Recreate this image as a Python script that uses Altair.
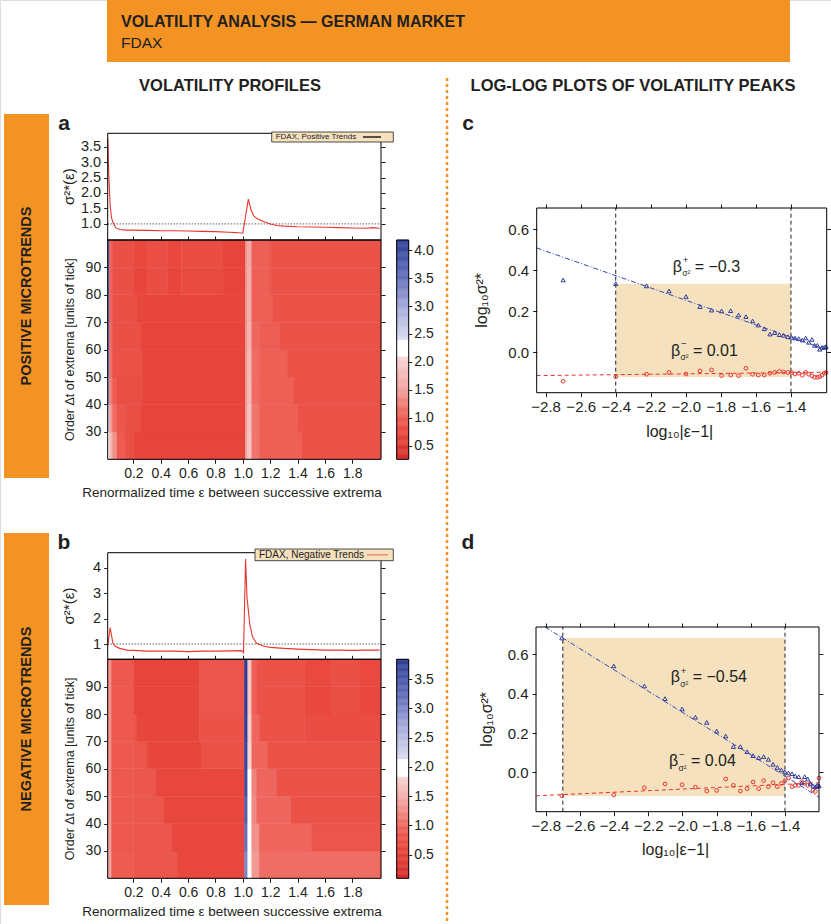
import altair as alt
import numpy as np
import pandas as pd

W, H = 831, 924
FONT = "Liberation Sans"
ORANGE = "#F39323"
WHEAT = "#F5E1BE"
RED = "#E8352E"
BLUE = "#2E3D9C"
INK = "#231F20"

# ---------------- data ----------------
# volatility profiles sigma^2*(eps)
eps_a = [0.013, 0.02, 0.03, 0.04, 0.05, 0.07, 0.10, 0.15, 0.2, 0.3, 0.4, 0.5, 0.6, 0.7, 0.8, 0.9,
         0.95, 1.0, 1.04, 1.06, 1.08, 1.1, 1.15, 1.2, 1.25, 1.3, 1.4, 1.5, 1.6, 1.7, 1.8, 1.9, 1.95, 2.0]
sig_a = [3.75, 2.6, 1.6, 1.2, 1.05, 0.88, 0.82, 0.80, 0.80, 0.79, 0.78, 0.78, 0.77, 0.76, 0.75, 0.73,
         0.72, 0.70, 1.80, 1.45, 1.26, 1.18, 1.08, 1.0, 0.95, 0.93, 0.91, 0.90, 0.89, 0.88, 0.87, 0.86, 0.88, 0.86]
eps_b = [0.013, 0.03, 0.05, 0.07, 0.10, 0.15, 0.2, 0.3, 0.4, 0.5, 0.6, 0.7, 0.8, 0.9, 0.99, 1.005,
         1.02, 1.03, 1.05, 1.07, 1.1, 1.15, 1.2, 1.3, 1.4, 1.5, 1.6, 1.7, 1.8, 1.9, 2.0]
sig_b = [0.95, 1.65, 1.03, 0.90, 0.83, 0.76, 0.75, 0.72, 0.72, 0.72, 0.70, 0.72, 0.72, 0.73, 0.74, 0.66,
         4.34, 2.86, 1.81, 1.29, 1.03, 0.92, 0.87, 0.83, 0.80, 0.78, 0.76, 0.76, 0.75, 0.76, 0.76]

# heatmaps: one list of eps-breaks and values per band of Delta t (bottom to top)
dt_edges = [20, 30, 40, 50, 60, 70, 80, 90, 100]
heat_a_breaks = [
    [0.012, 0.025, 0.045, 0.08, 0.14, 0.2, 1.02, 1.035, 1.065, 1.12, 1.43, 2.01],
    [0.012, 0.025, 0.045, 0.08, 0.14, 0.25, 1.02, 1.035, 1.065, 1.12, 1.40, 2.01],
    [0.012, 0.025, 0.045, 0.08, 0.27, 1.02, 1.035, 1.065, 1.12, 1.37, 2.01],
    [0.012, 0.025, 0.045, 0.27, 1.02, 1.035, 1.065, 1.12, 1.33, 2.01],
    [0.012, 0.025, 0.045, 0.25, 1.02, 1.035, 1.065, 1.12, 1.27, 2.01],
    [0.012, 0.025, 0.045, 0.22, 1.02, 1.035, 1.065, 1.22, 2.01],
    [0.012, 0.025, 0.045, 0.2, 0.3, 0.45, 0.55, 0.85, 1.02, 1.035, 1.065, 1.2, 2.01],
    [0.012, 0.025, 0.045, 0.2, 0.3, 0.45, 0.55, 0.85, 1.02, 1.035, 1.065, 1.2, 2.01],
]
heat_a_vals = [
    [2.2, 1.8, 1.4, 1.0, 0.85, 0.72, 1.6, 1.9, 1.2, 1.05, 0.9],
    [2.6, 1.5, 1.15, 0.95, 0.85, 0.72, 1.55, 1.85, 1.2, 1.05, 0.9],
    [3.2, 1.3, 1.0, 0.85, 0.72, 1.5, 1.8, 1.15, 1.05, 0.9],
    [3.4, 1.2, 0.88, 0.72, 1.5, 1.75, 1.15, 1.05, 0.9],
    [3.5, 1.15, 0.86, 0.72, 1.45, 1.7, 1.1, 1.02, 0.9],
    [3.6, 1.1, 0.86, 0.73, 1.45, 1.65, 1.05, 0.9],
    [3.6, 1.1, 0.86, 0.74, 0.82, 0.74, 0.8, 0.72, 1.45, 1.65, 1.05, 0.9],
    [3.7, 1.1, 0.86, 0.76, 0.84, 0.76, 0.82, 0.72, 1.45, 1.6, 1.05, 0.9],
]
heat_b_breaks = [
    [0.012, 0.04, 0.2, 0.52, 1.012, 1.036, 1.065, 1.12, 2.01],
    [0.012, 0.04, 0.2, 0.48, 1.012, 1.036, 1.065, 1.12, 1.5, 2.01],
    [0.012, 0.04, 0.2, 0.42, 1.012, 1.036, 1.065, 1.1, 1.35, 2.01],
    [0.012, 0.04, 0.2, 0.36, 1.012, 1.036, 1.065, 1.1, 1.25, 2.01],
    [0.012, 0.04, 0.2, 0.3, 0.7, 1.012, 1.036, 1.065, 1.18, 2.01],
    [0.012, 0.04, 0.22, 0.68, 1.012, 1.036, 1.065, 1.12, 1.45, 2.01],
    [0.012, 0.04, 0.2, 0.68, 1.012, 1.036, 1.065, 1.1, 1.45, 1.65, 1.85, 2.01],
    [0.012, 0.04, 0.2, 0.68, 1.012, 1.036, 1.065, 1.1, 1.45, 1.65, 1.85, 2.01],
]
heat_b_vals = [
    [1.45, 0.9, 0.85, 0.65, 3.0, 2.05, 1.35, 1.05],
    [1.4, 0.88, 0.85, 0.65, 3.2, 2.0, 1.3, 1.0, 0.82],
    [1.35, 0.88, 0.85, 0.65, 3.4, 1.95, 1.25, 1.0, 0.8],
    [1.3, 0.88, 0.85, 0.65, 3.6, 1.85, 1.2, 1.0, 0.8],
    [1.3, 0.88, 0.85, 0.63, 0.78, 3.7, 1.8, 1.0, 0.8],
    [1.3, 0.88, 0.63, 0.8, 3.8, 1.75, 1.0, 0.8, 0.72],
    [1.3, 0.88, 0.62, 0.82, 3.8, 1.7, 0.95, 0.8, 0.66, 0.75, 0.66],
    [1.3, 0.88, 0.62, 0.82, 3.85, 1.7, 0.95, 0.8, 0.68, 0.76, 0.68],
]

# log-log plots of the peaks
c_x = [-2.70, -2.40, -2.224, -2.096, -1.999, -1.919, -1.853, -1.796, -1.744, -1.699, -1.657, -1.619,
       -1.586, -1.552, -1.520, -1.493, -1.466, -1.442, -1.417, -1.396, -1.377, -1.356, -1.335, -1.316,
       -1.299, -1.280, -1.265, -1.249, -1.236, -1.223, -1.210, -1.200]
c_pos = [0.353, 0.335, 0.324, 0.299, 0.272, 0.223, 0.206, 0.202, 0.203, 0.182, 0.174, 0.153,
         0.133, 0.115, 0.089, 0.096, 0.086, 0.083, 0.076, 0.073, 0.070, 0.067, 0.060, 0.070,
         0.049, 0.063, 0.034, 0.034, 0.015, 0.024, 0.024, 0.028]
c_neg = [-0.141, -0.119, -0.107, -0.098, -0.106, -0.091, -0.086, -0.114, -0.111, -0.114, -0.078, -0.107,
         -0.111, -0.111, -0.102, -0.098, -0.093, -0.096, -0.098, -0.099, -0.106, -0.102, -0.112, -0.098,
         -0.107, -0.115, -0.122, -0.122, -0.119, -0.112, -0.102, -0.099]
d_x = [-2.706, -2.402, -2.223, -2.102, -2.002, -1.924, -1.858, -1.800, -1.747, -1.702, -1.661, -1.622,
       -1.587, -1.554, -1.525, -1.497, -1.470, -1.445, -1.421, -1.400, -1.379, -1.359, -1.340, -1.320,
       -1.302, -1.285, -1.267, -1.252, -1.236, -1.223, -1.211, -1.201]
d_pos = [0.683, 0.541, 0.439, 0.375, 0.322, 0.280, 0.254, 0.210, 0.185, 0.131, 0.131, 0.105,
         0.085, 0.075, 0.080, 0.066, 0.041, 0.025, 0.012, 0.002, -0.003, -0.007, -0.019, -0.022,
         -0.053, -0.022, -0.034, -0.056, -0.069, -0.073, -0.066, -0.069]
d_neg = [-0.119, -0.114, -0.078, -0.059, -0.063, -0.075, -0.095, -0.092, -0.034, -0.066, -0.095, -0.083,
         -0.049, -0.083, -0.042, -0.073, -0.053, -0.073, -0.056, -0.042, -0.029, -0.073, -0.066, -0.066,
         -0.047, -0.056, -0.066, -0.059, -0.090, -0.097, -0.073, -0.029]
# fitted power laws: (slope, anchor x, anchor y)
c_fit_pos = (-0.30, -2.4, 0.374)
c_fit_neg = (0.01, -2.0, -0.105)
d_fit_pos = (-0.54, -2.7, 0.683)
d_fit_neg = (0.04, -2.85, -0.119)
c_window, c_shade = (-2.4, -1.4), (-0.12, 0.335)
d_window, d_shade = (-2.7, -1.4), (-0.12, 0.683)
c_betas = [("+", "= \u22120.3", -2.075, 0.418), ("\u2212", "= 0.01", -2.085, 0.008)]
d_betas = [("+", "= \u22120.54", -2.069, 0.483), ("\u2212", "= 0.04", -2.079, 0.056)]

xticks_eps = [0.2, 0.4, 0.6, 0.8, 1.0, 1.2, 1.4, 1.6, 1.8]
xticks_log = [-2.8, -2.6, -2.4, -2.2, -2.0, -1.8, -1.6, -1.4]
yticks_log = [0.0, 0.2, 0.4, 0.6]

# ---------------- scales (pixel ranges on one canvas) ----------------
def qs(domain, rng):
    return alt.Scale(domain=domain, range=rng, nice=False, zero=False)

EPS_DOM = [0.012, 2.01]
XA = qs(EPS_DOM, [107.7, 381.0])
YLA_DOM = [0.48, 3.93]; YLA = qs(YLA_DOM, [240.0, 133.3])
YHA = qs([20, 100], [459.3, 240.0])
CBX_A = qs([0, 1], [396.7, 408.7])
CBA_DOM = [0.26, 4.18]; CBY_A = qs(CBA_DOM, [459.3, 240.0])
YLB_DOM = [0.4, 4.59]; YLB = qs(YLB_DOM, [659.3, 552.7])
YHB = qs([20, 100], [878.3, 659.3])
CBB_DOM = [0.096, 3.84]; CBY_B = qs(CBB_DOM, [878.3, 659.3])
XC_DOM = [-2.851, -1.196]; XC = qs(XC_DOM, [536.7, 826.7])
YC_DOM = [-0.197, 0.704]; YC = qs(YC_DOM, [392.7, 208.0])
XD_DOM = [-2.857, -1.201]; XD = qs(XD_DOM, [536.0, 819.0])
YD_DOM = [-0.2, 0.739]; YD = qs(YD_DOM, [811.7, 627.0])

PAL = ["#D42A28", "#E8473D", "#EE5F55", "#F2A09C", "#F6D6D5", "#FFFFFF", "#FFFFFF",
       "#DCDDF2", "#A3A9DA", "#6470BC", "#2C3C94"]
CA = alt.Scale(domain=[0.26, 0.75, 1.05, 1.5, 2.09, 2.0901, 2.39, 2.3901, 3.0, 3.5, 4.18],
               range=PAL, interpolate="rgb", clamp=True)
CB = alt.Scale(domain=[0.096, 0.65, 0.95, 1.4, 1.83, 1.8301, 2.13, 2.1301, 2.71, 3.19, 3.84],
               range=PAL, interpolate="rgb", clamp=True)


def ax(orient, pos, values=None, fmt=None, labels=True, size=13.5, tick=4, pad=3):
    if orient == "bottom":
        off = pos - H
    elif orient == "top":
        off = -pos
    elif orient == "left":
        off = -pos
    else:
        off = -(W - pos)
    d = dict(orient=orient, offset=off, grid=False, domain=False, ticks=True, tickSize=tick,
             tickColor="#000", tickWidth=0.9, labels=labels, labelFont=FONT, labelFontSize=size,
             labelColor=INK, labelPadding=pad, labelOverlap=False, labelFlush=False, title=None)
    if values is not None:
        d["values"] = values
    if fmt:
        d["format"] = fmt
    return alt.Axis(**d)


def one():
    return pd.DataFrame({"k": [0]})


def prect(x0, x1, y0, y1, **kw):
    return alt.Chart(one()).mark_rect(**kw).encode(
        x=alt.value(x0), x2=alt.value(x1), y=alt.value(y0), y2=alt.value(y1))


def txt(s, x, y, size, bold=False, angle=0, align="center", font=FONT, color=INK):
    kw = dict(align=align, baseline="middle", fontSize=size, font=font, color=color)
    if bold:
        kw["fontWeight"] = "bold"
    if angle:
        kw["angle"] = angle
    return alt.Chart(pd.DataFrame({"t": [s]})).mark_text(**kw).encode(
        x=alt.value(x), y=alt.value(y), text="t:N")


def frame(X, Y, xdom, ydom, xaxis=None, yaxis=None, opacity=1.0):
    df = pd.DataFrame({"x0": [xdom[0]], "x1": [xdom[1]], "y0": [ydom[0]], "y1": [ydom[1]]})
    return alt.Chart(df).mark_rect(fill="transparent", stroke="#000", strokeWidth=1,
                                   strokeOpacity=opacity).encode(
        x=alt.X("x0:Q", scale=X, axis=xaxis), x2="x1:Q",
        y=alt.Y("y0:Q", scale=Y, axis=yaxis), y2="y1:Q")


def seg_df(breaks, vals):
    rows = []
    for i, (br, vs) in enumerate(zip(breaks, vals)):
        for j, v in enumerate(vs):
            rows.append(dict(x0=br[j], x1=br[j + 1], y0=dt_edges[i], y1=dt_edges[i + 1], v=v))
    return pd.DataFrame(rows)


layers = []

# ---------------- decorations ----------------
layers.append(prect(107, 790, 0, 62, color=ORANGE))
layers.append(txt("VOLATILITY ANALYSIS \u2014 GERMAN MARKET", 121, 22, 16, bold=True, align="left"))
layers.append(txt("FDAX", 121, 43, 15.5, align="left"))
layers.append(txt("VOLATILITY PROFILES", 230, 86, 16.5, bold=True))
layers.append(txt("LOG-LOG PLOTS OF VOLATILITY PEAKS", 633, 86, 16.5, bold=True))
layers.append(alt.Chart(one()).mark_rule(color=ORANGE, strokeDash=[3, 3], strokeWidth=2.5).encode(
    x=alt.value(447), y=alt.value(78), y2=alt.value(924)))
layers.append(prect(4, 49, 114, 478, color=ORANGE))
layers.append(prect(4, 49, 533, 905, color=ORANGE))
layers.append(txt("POSITIVE MICROTRENDS", 27, 296, 14.5, bold=True, angle=270))
layers.append(txt("NEGATIVE MICROTRENDS", 27, 719, 14.5, bold=True, angle=270))
for lab, lx, ly in [("a", 64, 124), ("b", 64, 543), ("c", 468, 124), ("d", 468, 543)]:
    layers.append(txt(lab, lx, ly, 21, bold=True))


# ---------------- volatility profile panels ----------------
def profile(eps, sig, YL, YL_DOM, YH, CS, CBY, CB_DOM, breaks, vals, ylt, ylfmt, cbt,
            line_top, hm_top, hm_bottom, legend_text, legend_box, legend_size, legend_line, cy):
    L = []
    hm = seg_df(breaks, vals)
    L.append(alt.Chart(hm).mark_rect(strokeWidth=0.5).encode(
        x=alt.X("x0:Q", scale=XA, axis=ax("bottom", hm_bottom, xticks_eps, ".1f", size=14, pad=3)),
        x2="x1:Q",
        y=alt.Y("y0:Q", scale=YH, axis=ax("left", 107.7, [30, 40, 50, 60, 70, 80, 90], "d",
                                           size=14, pad=3)),
        y2="y1:Q",
        color=alt.Color("v:Q", scale=CS, legend=None),
        stroke=alt.Stroke("v:Q", scale=CS, legend=None)))
    L.append(frame(XA, YH, EPS_DOM, [20, 100],
                   xaxis=ax("top", hm_top, xticks_eps, labels=False),
                   yaxis=ax("right", 381.0, [30, 40, 50, 60, 70, 80, 90], labels=False)))
    # colour bar
    lv = np.round(np.arange(CB_DOM[0], CB_DOM[1], 0.02), 4)
    cb = pd.DataFrame({"c0": 0.0, "c1": 1.0, "l0": lv, "l1": np.minimum(lv + 0.02, CB_DOM[1]),
                       "v": lv + 0.01})
    L.append(alt.Chart(cb).mark_rect(strokeWidth=0.4).encode(
        x=alt.X("c0:Q", scale=CBX_A, axis=None), x2="c1:Q",
        y=alt.Y("l0:Q", scale=CBY, axis=ax("right", 408.7, cbt, ".1f", size=14, tick=3, pad=2)),
        y2="l1:Q",
        color=alt.Color("v:Q", scale=CS, legend=None),
        stroke=alt.Stroke("v:Q", scale=CS, legend=None)))
    L.append(frame(CBX_A, CBY, [0, 1], CB_DOM))
    # line plot
    ref = pd.DataFrame({"x0": [EPS_DOM[0]], "x1": [EPS_DOM[1]], "y": [1.0]})
    L.append(alt.Chart(ref).mark_rule(color="#000", strokeDash=[1, 2], strokeWidth=0.9).encode(
        x=alt.X("x0:Q", scale=XA, axis=None), x2="x1:Q",
        y=alt.Y("y:Q", scale=YL, axis=ax("right", 381.0, ylt, labels=False))))
    L.append(alt.Chart(pd.DataFrame({"eps": eps, "sig": sig})).mark_line(
        color=RED, strokeWidth=1.1).encode(
        x=alt.X("eps:Q", scale=XA, axis=None),
        y=alt.Y("sig:Q", scale=YL, axis=None)))
    L.append(frame(XA, YL, EPS_DOM, YL_DOM, yaxis=ax("left", 107.7, ylt, ylfmt, size=14.5, pad=3)))
    # legend box
    bx0, bx1, by0, by1 = legend_box
    lx0, lx1, lcol = legend_line
    L.append(prect(bx0, bx1, by0, by1, color=WHEAT, stroke="#222", strokeWidth=0.8))
    L.append(txt(legend_text, bx0 + 4, (by0 + by1) / 2, legend_size, align="left", color="#222"))
    L.append(alt.Chart(one()).mark_rule(color=lcol, strokeWidth=1.3).encode(
        x=alt.value(lx0), x2=alt.value(lx1), y=alt.value((by0 + by1) / 2)))
    # axis titles
    L.append(txt("\u03c3\u00b2*(\u03b5)", 69, (line_top + hm_top) / 2, 15, angle=270))
    L.append(txt("Order \u0394t of extrema [units of tick]", 70, (hm_top + hm_bottom) / 2, 12.5, angle=270))
    L.append(txt("Renormalized time \u03b5 between successive extrema", 232, cy, 13.5))
    return L


layers += profile(eps_a, sig_a, YLA, YLA_DOM, YHA, CA, CBY_A, CBA_DOM, heat_a_breaks, heat_a_vals,
                  [1.0, 1.5, 2.0, 2.5, 3.0, 3.5], ".1f", [0.5, 1.0, 1.5, 2.0, 2.5, 3.0, 3.5, 4.0],
                  133.3, 240.0, 459.3, "FDAX, Positive Trends", (271.7, 393.3, 132, 142), 8,
                  (363, 381, "#000"), 493)
layers += profile(eps_b, sig_b, YLB, YLB_DOM, YHB, CB, CBY_B, CBB_DOM, heat_b_breaks, heat_b_vals,
                  [1, 2, 3, 4], "d", [0.5, 1.0, 1.5, 2.0, 2.5, 3.0, 3.5],
                  552.7, 659.3, 878.3, "FDAX, Negative Trends", (255, 393.3, 549, 560.7), 10,
                  (367, 388, "#F07A6A"), 912)


# ---------------- log-log panels ----------------
def loglog(X, Y, xdom, ydom, xs, pos, neg, fit_pos, fit_neg, window, shade, betas,
           top, bottom, left, right, title_y, ytitle_x):
    L = []
    sh = pd.DataFrame({"x0": [window[0]], "x1": [window[1]], "y0": [shade[0]], "y1": [shade[1]]})
    L.append(alt.Chart(sh).mark_rect(color=WHEAT).encode(
        x=alt.X("x0:Q", scale=X, axis=None), x2="x1:Q",
        y=alt.Y("y0:Q", scale=Y, axis=None), y2="y1:Q"))
    vl = pd.DataFrame({"x": list(window), "y0": [ydom[0]] * 2, "y1": [ydom[1]] * 2})
    L.append(alt.Chart(vl).mark_rule(color="#222", strokeDash=[4, 3], strokeWidth=1).encode(
        x=alt.X("x:Q", scale=X, axis=ax("top", top, xticks_log, labels=False)),
        y=alt.Y("y0:Q", scale=Y, axis=ax("right", right, yticks_log, labels=False)),
        y2="y1:Q"))

    def fit_df(fit):
        s, x0, y0 = fit
        xa, xb = xdom
        if y0 + s * (xa - x0) > ydom[1]:
            xa = x0 + (ydom[1] - y0) / s
        if y0 + s * (xb - x0) < ydom[0]:
            xb = x0 + (ydom[0] - y0) / s
        return pd.DataFrame({"x": [xa, xb], "y": [y0 + s * (xa - x0), y0 + s * (xb - x0)]})

    L.append(alt.Chart(fit_df(fit_pos)).mark_line(color="#3448B0", strokeWidth=1,
                                                   strokeDash=[5, 2, 1, 2]).encode(
        x=alt.X("x:Q", scale=X, axis=None), y=alt.Y("y:Q", scale=Y, axis=None)))
    L.append(alt.Chart(fit_df(fit_neg)).mark_line(color=RED, strokeWidth=1,
                                                   strokeDash=[4, 3]).encode(
        x=alt.X("x:Q", scale=X, axis=None), y=alt.Y("y:Q", scale=Y, axis=None)))
    L.append(alt.Chart(pd.DataFrame({"x": xs, "y": neg})).mark_point(
        shape="circle", filled=False, size=14, strokeWidth=1, color=RED, opacity=1).encode(
        x=alt.X("x:Q", scale=X, axis=None), y=alt.Y("y:Q", scale=Y, axis=None)))
    L.append(alt.Chart(pd.DataFrame({"x": xs, "y": pos})).mark_point(
        shape="triangle-up", filled=False, size=18, strokeWidth=1, color=BLUE, opacity=1).encode(
        x=alt.X("x:Q", scale=X, axis=None), y=alt.Y("y:Q", scale=Y, axis=None)))
    L.append(frame(X, Y, xdom, ydom,
                   xaxis=ax("bottom", bottom, xticks_log, ".1f", size=15, pad=3),
                   yaxis=ax("left", left, yticks_log, ".1f", size=15, pad=4)))
    bdf = pd.DataFrame({"x": [b[2] for b in betas], "y": [b[3] for b in betas],
                        "sup": [b[0] for b in betas], "val": [b[1] for b in betas]})
    enc = dict(x=alt.X("x:Q", scale=X, axis=None), y=alt.Y("y:Q", scale=Y, axis=None))
    L.append(alt.Chart(bdf).mark_text(text="\u03b2", align="left", baseline="middle", fontSize=16,
                                      font=FONT, color=INK).encode(**enc))
    L.append(alt.Chart(bdf).mark_text(align="left", baseline="middle", fontSize=9.5, font=FONT,
                                      color=INK, dx=10, dy=-6.5).encode(text="sup:N", **enc))
    L.append(alt.Chart(bdf).mark_text(text="\u03c3\u00b2", align="left", baseline="middle",
                                      fontSize=8.5, font=FONT, color=INK, dx=9.5, dy=6.5).encode(**enc))
    L.append(alt.Chart(bdf).mark_text(align="left", baseline="middle", fontSize=16, font=FONT,
                                      color=INK, dx=22).encode(text="val:N", **enc))
    L.append(txt("log\u2081\u2080|\u03b5\u22121|", (left + right) / 2 - 2, title_y, 16))
    L.append(txt("log\u2081\u2080\u03c3\u00b2*", ytitle_x, (top + bottom) / 2, 16, angle=270))
    return L


layers += loglog(XC, YC, XC_DOM, YC_DOM, c_x, c_pos, c_neg, c_fit_pos, c_fit_neg, c_window, c_shade,
                 c_betas, 208.0, 392.7, 536.7, 826.7, 431.7, 482)
layers += loglog(XD, YD, XD_DOM, YD_DOM, d_x, d_pos, d_neg, d_fit_pos, d_fit_neg, d_window, d_shade,
                 d_betas, 627.0, 811.7, 536.0, 819.0, 850, 487)

chart = alt.layer(*layers).resolve_scale(
    x="independent", y="independent", color="independent", stroke="independent"
).properties(
    width=W, height=H, padding=0, autosize=alt.AutoSizeParams(type="none")
).configure_view(strokeWidth=0).configure(background="white")

chart.save("out.html", embed_options={"renderer": "svg", "actions": False})
